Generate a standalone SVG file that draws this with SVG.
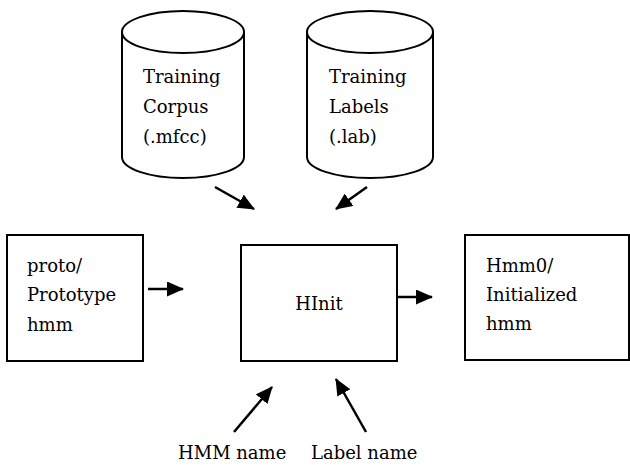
<svg xmlns="http://www.w3.org/2000/svg" width="630" height="465" viewBox="0 0 630 465">
<style>
.s{fill:#fff;stroke:#000;stroke-width:2}
.t{font-family:"DejaVu Serif","Liberation Serif",serif;font-size:18px;fill:#000}
.c{stroke:#000;stroke-width:2.5;fill:none}
</style>
<defs>
<marker id="ah" markerUnits="userSpaceOnUse" markerWidth="17" markerHeight="15" refX="16" refY="7.5" orient="auto">
<path d="M0,0 L17,7.5 L0,15 z" fill="#000"/>
</marker>
</defs>
<rect width="630" height="465" fill="#fff"/>
<g id="corpus">
<path class="s" d="M122,32 L122,157 A61,21 0 0 0 244,157 L244,32"/>
<ellipse class="s" cx="183" cy="32" rx="61" ry="21"/>
<text class="t" x="143" y="83">Training</text>
<text class="t" x="143" y="113">Corpus</text>
<text class="t" x="143" y="143">(.mfcc)</text>
</g>
<g id="labels">
<path class="s" d="M307,32 L307,157 A63,21 0 0 0 433,157 L433,32"/>
<ellipse class="s" cx="370" cy="32" rx="63" ry="21"/>
<text class="t" x="329" y="83">Training</text>
<text class="t" x="329" y="113">Labels</text>
<text class="t" x="329" y="143">(.lab)</text>
</g>
<g id="proto">
<rect class="s" x="7" y="235" width="136" height="126"/>
<text class="t" x="27" y="272">proto/</text>
<text class="t" x="27" y="301">Prototype</text>
<text class="t" x="27" y="331">hmm</text>
</g>
<g id="hinit">
<rect class="s" x="241" y="245" width="156" height="116"/>
<text class="t" x="319" y="310" text-anchor="middle">HInit</text>
</g>
<g id="hmm0">
<rect class="s" x="465" y="235" width="164" height="125"/>
<text class="t" x="486" y="272">Hmm0/</text>
<text class="t" x="486" y="301">Initialized</text>
<text class="t" x="486" y="330">hmm</text>
</g>
<g id="hmmname">
<text class="t" x="178" y="459">HMM name</text>
</g>
<g id="labelname">
<text class="t" x="311" y="459">Label name</text>
</g>
<g id="connectors">
<line class="c" x1="215" y1="187" x2="254" y2="209" marker-end="url(#ah)"/>
<line class="c" x1="367" y1="187" x2="336" y2="209" marker-end="url(#ah)"/>
<line class="c" x1="148" y1="289" x2="183" y2="289" marker-end="url(#ah)"/>
<line class="c" x1="397" y1="297" x2="432" y2="297" marker-end="url(#ah)"/>
<line class="c" x1="234" y1="432" x2="272" y2="387" marker-end="url(#ah)"/>
<line class="c" x1="366" y1="432" x2="336" y2="379" marker-end="url(#ah)"/>
</g>
</svg>
